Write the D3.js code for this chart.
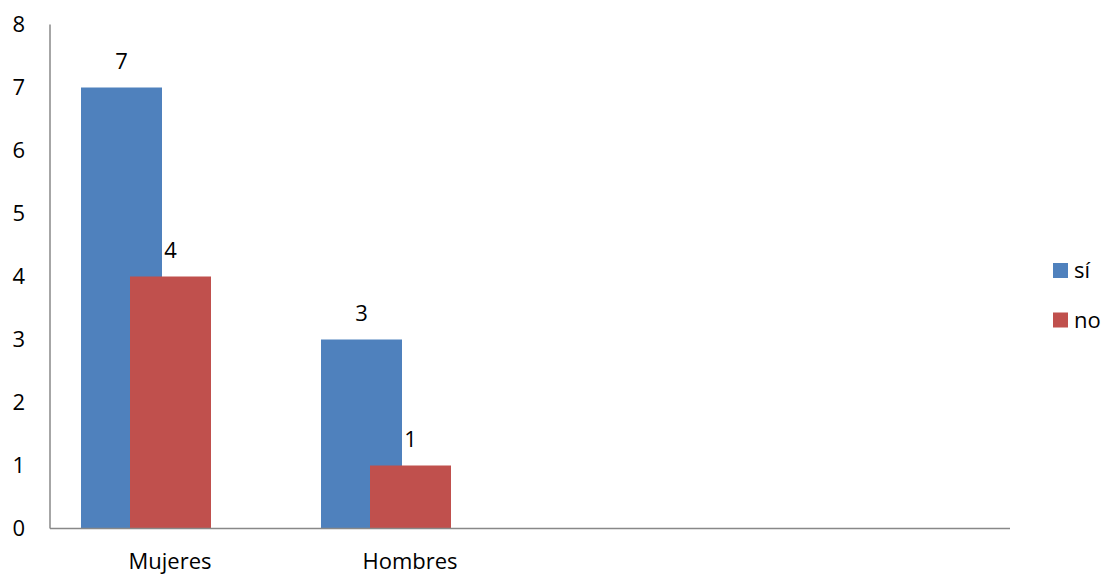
<!DOCTYPE html>
<html><head><meta charset="utf-8">
<script src="https://cdn.jsdelivr.net/npm/d3@7"></script>
<style>body{margin:0;background:#fff}svg{display:block}text{font-family:"Open Sans",sans-serif;fill:#000}</style>
</head><body>
<svg id="c" width="1102" height="574"></svg>
<script>
const categories = ["Mujeres", "Hombres"];
const series = ["sí", "no"];
const siValues = [7, 3];
const noValues = [4, 1];
const yTicks = [0, 1, 2, 3, 4, 5, 6, 7, 8];
const colors = ["#4F81BD", "#C0504D"];

(function () {
const svg = d3.select("#c");
const FS = "22px";
const mLeft = 50, mRight = 1010, mTop = 24.5, mBottom = 528.5;
const y = d3.scaleLinear().domain([0, 8]).range([mBottom, mTop]);
const x = d3.scaleBand().domain(categories).range([mLeft, mLeft + (mRight - mLeft) / 2]).padding(0);
const bw = x.bandwidth();
const barW = bw * 81 / 240;
const offsets = [bw * 31 / 240, bw * 80 / 240];

const data = [siValues, noValues];
data.forEach((vals, si) => {
  const g = svg.append("g");
  g.selectAll("rect").data(categories).enter().append("rect")
    .attr("x", (c) => x(c) + offsets[si])
    .attr("y", (c, i) => y(vals[i]))
    .attr("width", barW)
    .attr("height", (c, i) => y(0) - y(vals[i]))
    .attr("fill", colors[si]);
  g.selectAll("text").data(categories).enter().append("text")
    .attr("x", (c) => x(c) + offsets[si] + barW / 2)
    .attr("y", (c, i) => y(vals[i]) - 19)
    .attr("text-anchor", "middle")
    .style("font-size", FS)
    .text((c, i) => vals[i]);
});

const ya = svg.append("g").attr("transform", `translate(${mLeft},0)`)
  .call(d3.axisLeft(y).tickValues(yTicks).tickSize(0).tickPadding(25).tickFormat(d3.format("d")));
ya.select(".domain").remove();
ya.selectAll("text").style("font-size", FS).attr("fill", "#000").style("font-family", "'Open Sans',sans-serif");
svg.append("line").attr("x1", mLeft).attr("x2", mLeft).attr("y1", mTop).attr("y2", mBottom)
  .attr("stroke", "#888").attr("stroke-width", 1.5);

const xa = svg.append("g").attr("transform", `translate(0,${mBottom})`)
  .call(d3.axisBottom(x).tickSize(0).tickPadding(25));
xa.select(".domain").remove();
xa.selectAll("text").style("font-size", FS).attr("fill", "#000").style("font-family", "'Open Sans',sans-serif");
svg.append("line").attr("x1", mLeft).attr("x2", mRight).attr("y1", mBottom).attr("y2", mBottom)
  .attr("stroke", "#888").attr("stroke-width", 1.5);

const lg = svg.append("g").attr("transform", "translate(1053,263)");
series.forEach((s, i) => {
  lg.append("rect").attr("x", 0).attr("y", i * 49.5).attr("width", 15).attr("height", 15).attr("fill", colors[i]);
  lg.append("text").attr("x", 21).attr("y", i * 49.5 + 15).style("font-size", FS).text(s);
});
})();
</script>
</body></html>
